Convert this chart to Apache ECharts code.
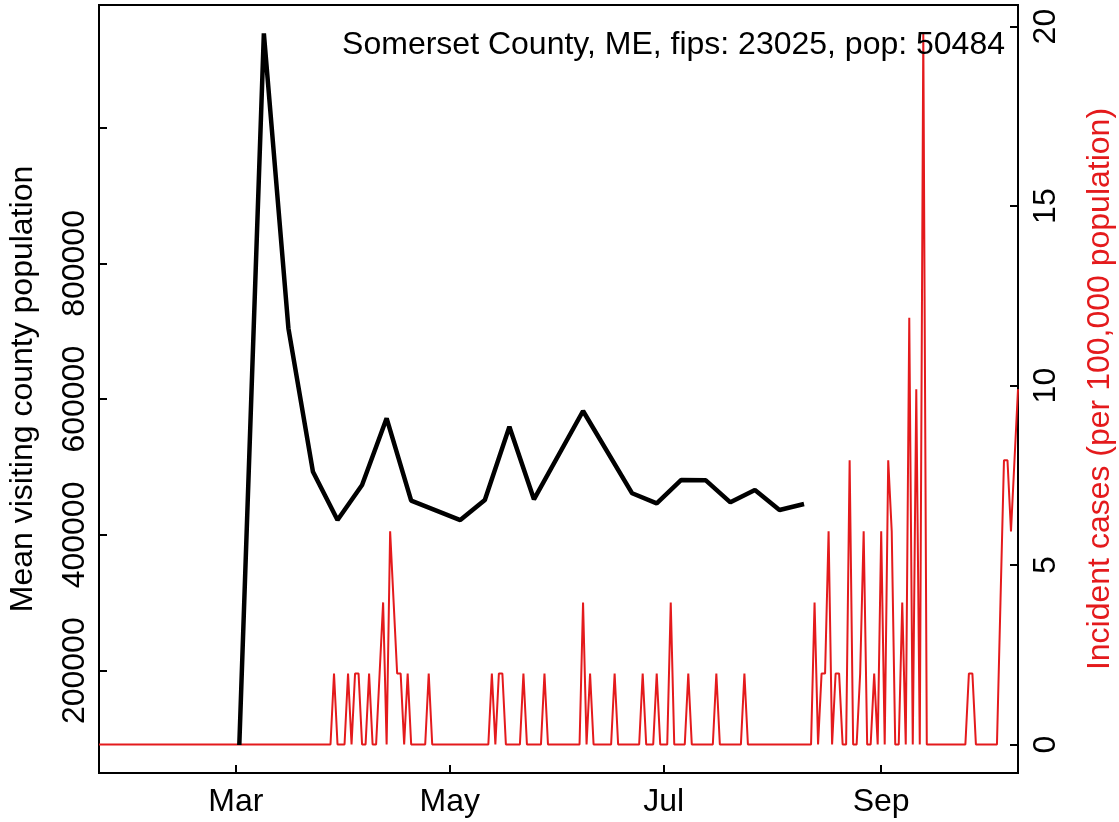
<!DOCTYPE html>
<html><head><meta charset="utf-8">
<script src="https://cdn.jsdelivr.net/npm/echarts@6/dist/echarts.min.js"></script>
<style>html,body{margin:0;padding:0;background:#fff}#c{width:1119px;height:822px}</style>
</head><body><div id="c"></div>
<script>
const titleText = 'Somerset County, ME, fips: 23025, pop: 50484';
const leftAxisName = 'Mean visiting county population';
const rightAxisName = 'Incident cases (per 100,000 population)';
const monthTicks = ['2020-03-01','2020-05-01','2020-07-01','2020-09-01'];
const monthLabels = ['Mar','May','Jul','Sep'];
const leftTicks = [200000,400000,600000,800000,1000000];
const leftTickLabels = [200000,400000,600000,800000];
const rightTicks = [0,5,10,15,20];

// weekly mean visiting county population (black line)
const visitDates = ['2020-03-02','2020-03-09','2020-03-16','2020-03-23','2020-03-30','2020-04-06','2020-04-13','2020-04-20',
  '2020-05-04','2020-05-11','2020-05-18','2020-05-25','2020-06-08','2020-06-22','2020-06-29','2020-07-06','2020-07-13',
  '2020-07-20','2020-07-27','2020-08-03','2020-08-10'];
const visitValues = [90500,1139000,704500,493000,422000,473600,571900,450500,
  422000,451500,559500,452500,582600,461400,446600,481000,480500,
  448100,466200,436800,445600];

// daily incident cases per 100,000 (red line), starting 2020-01-22
const caseStart = '2020-01-22';
const caseValues = [
  0,0,0,0,0,0,0,0,0,0,
  0,0,0,0,0,0,0,0,0,0,
  0,0,0,0,0,0,0,0,0,0,
  0,0,0,0,0,0,0,0,0,0,
  0,0,0,0,0,0,0,0,0,0,
  0,0,0,0,0,0,0,0,0,0,
  0,0,0,0,0,0,0,1.98,0,0,
  0,1.98,0,1.98,1.98,0,0,1.98,0,0,
  1.98,3.96,0,5.94,3.96,1.98,1.98,0,1.98,0,
  0,0,0,0,1.98,0,0,0,0,0,
  0,0,0,0,0,0,0,0,0,0,
  0,0,1.98,0,1.98,1.98,0,0,0,0,
  0,1.98,0,0,0,0,0,1.98,0,0,
  0,0,0,0,0,0,0,0,3.96,0,
  1.98,0,0,0,0,0,0,1.98,0,0,
  0,0,0,0,0,1.98,0,0,0,1.98,
  0,0,0,3.96,0,0,0,0,1.98,0,
  0,0,0,0,0,0,1.98,0,0,0,
  0,0,0,0,1.98,0,0,0,0,0,
  0,0,0,0,0,0,0,0,0,0,
  0,0,0,0,3.96,0,1.98,1.98,5.94,0,
  1.98,1.98,0,0,7.92,0,0,1.98,5.94,0,
  0,1.98,0,5.94,0,7.92,5.94,0,0,3.96,
  0,11.89,0,9.9,0,19.81,0,0,0,0,
  0,0,0,0,0,0,0,0,1.98,1.98,
  0,0,0,0,0,0,0,3.96,7.92,7.92,
  5.94,7.92,9.9
];

const DAY = 86400000;
const toTs = s => Date.parse(s + 'T00:00:00Z');
const startTs = toTs(caseStart);
const caseData = caseValues.map((v, i) => [startTs + i * DAY, v]);
const visitData = visitDates.map((d, i) => [toTs(d), visitValues[i]]);
const tickTs = monthTicks.map(toTs);

const FONT = "'Liberation Sans', Arial, sans-serif";
const FS = 32;
const RED = '#E41A1C';

const chart = echarts.init(document.getElementById('c'), null, {renderer: 'canvas'});
chart.setOption({
  animation: false,
  backgroundColor: '#fff',
  textStyle: {fontFamily: FONT},
  title: {
    text: titleText, right: 114, top: 29, padding: 0,
    textStyle: {fontFamily: FONT, fontSize: FS, fontWeight: 'normal', color: '#000'}
  },
  grid: {left: 99, right: 101, top: 5, bottom: 49, outerBoundsMode: 'none', containLabel: false,
    show: true, borderColor: '#000', borderWidth: 2, backgroundColor: 'transparent'},
  xAxis: {
    type: 'value', min: startTs, max: startTs + (caseValues.length - 1) * DAY,
    axisLine: {show: false, onZero: false}, splitLine: {show: false},
    axisTick: {show: true, inside: true, length: 8, customValues: tickTs, lineStyle: {color: '#000', width: 2}},
    axisLabel: {
      customValues: tickTs, margin: 13, fontSize: FS, color: '#000', fontFamily: FONT,
      formatter: v => monthLabels[tickTs.indexOf(v)] || ''
    }
  },
  yAxis: [{
    type: 'value', position: 'left', min: 49300, max: 1180800,
    name: leftAxisName, nameLocation: 'middle', nameRotate: 90, nameGap: 60,
    nameTextStyle: {fontSize: FS, color: '#000', fontFamily: FONT},
    axisLine: {show: false, onZero: false}, splitLine: {show: false},
    axisTick: {show: true, inside: true, length: 8, customValues: leftTicks, lineStyle: {color: '#000', width: 2}},
    axisLabel: {customValues: leftTickLabels, rotate: 90, margin: 8, fontSize: FS, color: '#000', fontFamily: FONT,
      formatter: v => String(v)}
  }, {
    type: 'value', position: 'right', min: -0.792, max: 20.602,
    name: rightAxisName, nameLocation: 'middle', nameRotate: 90, nameGap: 66,
    nameTextStyle: {fontSize: FS, color: RED, fontFamily: FONT},
    axisLine: {show: false, onZero: false}, splitLine: {show: false},
    axisTick: {show: true, inside: true, length: 8, customValues: rightTicks, lineStyle: {color: '#000', width: 2}},
    axisLabel: {customValues: rightTicks, rotate: 90, margin: 12, fontSize: FS, color: '#000', fontFamily: FONT,
      formatter: v => String(v)}
  }],
  series: [{
    type: 'line', yAxisIndex: 1, data: caseData, showSymbol: false, symbol: 'none',
    lineStyle: {color: RED, width: 2}, z: 2
  }, {
    type: 'line', yAxisIndex: 0, data: visitData, showSymbol: false, symbol: 'none',
    lineStyle: {color: '#000', width: 4.5}, z: 3
  }]
});
</script></body></html>
